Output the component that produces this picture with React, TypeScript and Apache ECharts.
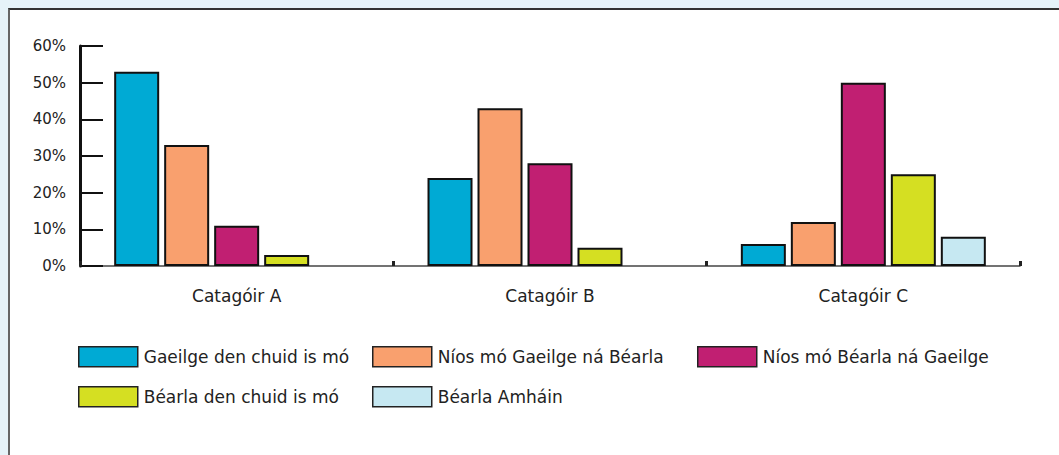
import React, { useEffect, useRef } from "react";
import * as echarts from "echarts";

const categories = ["Catagóir A", "Catagóir B", "Catagóir C"];
const seriesNames = [
  "Gaeilge den chuid is mó",
  "Níos mó Gaeilge ná Béarla",
  "Níos mó Béarla ná Gaeilge",
  "Béarla den chuid is mó",
  "Béarla Amháin",
];
const gaeilgeMostly = [53, 24, 6];
const moreIrishThanEnglish = [33, 43, 12];
const moreEnglishThanIrish = [11, 28, 50];
const englishMostly = [3, 5, 25];
const englishOnly = [0, 0, 8];
const seriesValues = [gaeilgeMostly, moreIrishThanEnglish, moreEnglishThanIrish, englishMostly, englishOnly];
const colors = ["#00aad4", "#f9a06e", "#c11f72", "#d5df22", "#c6e8f2"];

const FONT = "DejaVu Sans";

const legendPos = [
  { left: 78, top: 346 },
  { left: 372, top: 346 },
  { left: 697, top: 346 },
  { left: 78, top: 386 },
  { left: 372, top: 386 },
];

export default function App() {
  const ref = useRef<HTMLDivElement>(null);
  useEffect(() => {
    if (!ref.current) return;
    const chart = echarts.init(ref.current, null, { renderer: "svg" });
    chart.setOption({
      animation: false,
      grid: { left: 80, right: 39, top: 46, bottom: 189 },
      legend: seriesNames.map((n, i) => ({
        data: [n],
        left: legendPos[i].left,
        top: legendPos[i].top,
        padding: 0,
        itemWidth: 59,
        itemHeight: 20,
        icon: "rect",
        itemStyle: { borderColor: "#222", borderWidth: 1.5 },
        textStyle: { fontFamily: FONT, fontSize: 17, color: "#222", padding: [0, 0, 0, 1] },
        selectedMode: false,
      })),
      xAxis: {
        type: "category",
        data: categories,
        axisLine: { show: true, lineStyle: { color: "#444", width: 1.5 } },
        axisTick: { show: true, inside: true, length: 5, interval: 0, lineStyle: { color: "#222", width: 3 } },
        axisLabel: { fontFamily: FONT, fontSize: 17, color: "#222", margin: 21 },
      },
      yAxis: {
        type: "value",
        min: 0,
        max: 60,
        interval: 10,
        axisLine: { show: true, lineStyle: { color: "#111", width: 3 } },
        axisTick: { show: true, inside: true, length: 23, lineStyle: { color: "#111", width: 2 } },
        splitLine: { show: false },
        axisLabel: { formatter: "{value}%", fontFamily: FONT, fontSize: 15, color: "#222", margin: 14 },
      },
      series: seriesNames.map((n, i) => ({
        name: n,
        type: "bar",
        barWidth: 45,
        barGap: "11.1%",
        data: seriesValues[i].map((v) => (v === 0 ? null : v)),
        itemStyle: { color: colors[i], borderColor: "#111", borderWidth: 2 },
      })),
    });
    return () => chart.dispose();
  }, []);
  return (
    <div style={{ position: "fixed", left: 0, top: 0, width: 1059, height: 455, background: "#e6f3f9", overflow: "hidden" }}>
      <div
        style={{
          position: "absolute",
          left: 8,
          top: 8,
          width: 1100,
          height: 500,
          background: "#ffffff",
          borderTop: "2px solid #333",
          borderLeft: "2px solid #666",
        }}
      />
      <div ref={ref} style={{ position: "absolute", left: 0, top: 0, width: 1059, height: 455 }} />
    </div>
  );
}
